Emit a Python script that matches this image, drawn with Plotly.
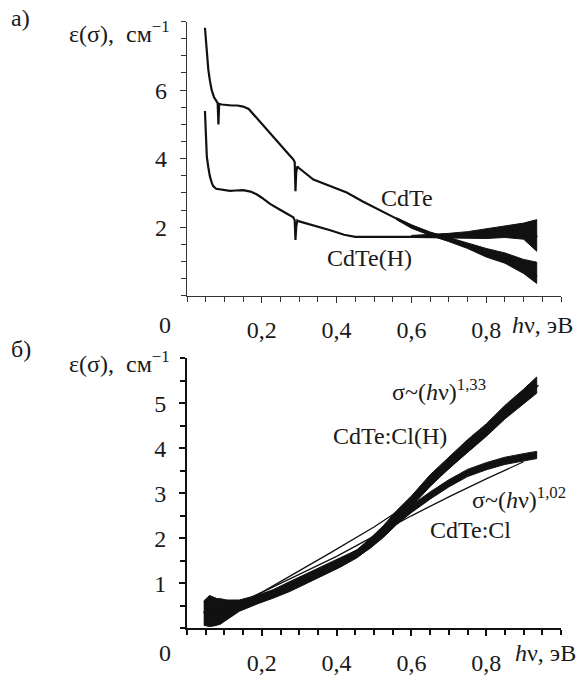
import numpy as np
import plotly.graph_objects as go

W, H = 582, 676

# ---------------- data: panel (a) ----------------
cdte_x = [0.048, 0.050, 0.053, 0.057, 0.061, 0.066, 0.072, 0.078, 0.082, 0.084, 0.086, 0.093,
          0.105, 0.12, 0.135, 0.15, 0.165, 0.18, 0.2, 0.225, 0.25, 0.27, 0.284, 0.288, 0.290,
          0.292, 0.295, 0.30, 0.338, 0.38, 0.427, 0.47, 0.516, 0.56, 0.605, 0.64, 0.676, 0.71,
          0.739, 0.77, 0.80, 0.84, 0.873, 0.90, 0.926, 0.935]
cdte_y = [7.82, 7.5, 6.96, 6.6, 6.29, 6.0, 5.8, 5.68, 5.62, 5.0, 5.6, 5.58,
          5.56, 5.55, 5.55, 5.52, 5.45, 5.26, 5.02, 4.71, 4.40, 4.15, 3.98, 3.9, 3.05,
          3.6, 3.77, 3.72, 3.39, 3.2, 3.01, 2.75, 2.49, 2.25, 2.02, 1.86, 1.73, 1.63,
          1.52, 1.40, 1.26, 1.12, 1.0, 0.85, 0.7, 0.55]
cdte_env_x = [0.56, 0.6, 0.65, 0.7, 0.75, 0.8, 0.85, 0.9, 0.935]
cdte_env_lo = [2.22, 1.97, 1.76, 1.58, 1.38, 1.13, 0.95, 0.65, 0.36]
cdte_env_hi = [2.28, 2.07, 1.86, 1.70, 1.56, 1.38, 1.25, 1.06, 0.98]

cdteh_x = [0.048, 0.050, 0.053, 0.057, 0.061, 0.066, 0.07, 0.078, 0.088, 0.1, 0.115, 0.13,
           0.15, 0.17, 0.186, 0.2, 0.222, 0.25, 0.275, 0.284, 0.288, 0.290, 0.292, 0.295,
           0.30, 0.338, 0.383, 0.42, 0.45, 0.48, 0.516, 0.56, 0.605, 0.64, 0.676, 0.71,
           0.739, 0.77, 0.80, 0.84, 0.873, 0.90, 0.926, 0.935]
cdteh_y = [5.39, 4.8, 4.06, 3.75, 3.49, 3.3, 3.2, 3.12, 3.1, 3.08, 3.06, 3.07,
           3.08, 3.04, 2.96, 2.86, 2.68, 2.5, 2.34, 2.29, 2.2, 1.63, 2.0, 2.2,
           2.17, 2.06, 1.91, 1.78, 1.72, 1.72, 1.72, 1.73, 1.73, 1.72, 1.72, 1.75,
           1.77, 1.80, 1.82, 1.87, 1.91, 1.94, 1.96, 1.7]
cdteh_env_x = [0.6, 0.65, 0.7, 0.75, 0.8, 0.85, 0.9, 0.935]
cdteh_env_lo = [1.70, 1.68, 1.68, 1.68, 1.67, 1.70, 1.65, 1.30]
cdteh_env_hi = [1.76, 1.78, 1.82, 1.87, 1.95, 2.02, 2.12, 2.22]

# ---------------- data: panel (b) ----------------
b_x = [0.045, 0.06, 0.075, 0.09, 0.11, 0.14, 0.19, 0.23, 0.275, 0.32, 0.365, 0.41,
       0.455, 0.49, 0.525, 0.56, 0.6, 0.65, 0.7, 0.75, 0.8, 0.85, 0.9, 0.935]
clh_y = [0.33, 0.38, 0.36, 0.38, 0.42, 0.5, 0.64, 0.75, 0.9, 1.07, 1.26, 1.45,
         1.66, 1.9, 2.18, 2.5, 2.82, 3.28, 3.68, 4.05, 4.4, 4.8, 5.15, 5.4]
clh_noise = [0.26, 0.34, 0.3, 0.28, 0.2, 0.12, 0.09, 0.08, 0.08, 0.08, 0.08, 0.09,
             0.09, 0.1, 0.1, 0.11, 0.12, 0.13, 0.13, 0.14, 0.14, 0.15, 0.16, 0.18]
cl_y = [0.35, 0.4, 0.38, 0.36, 0.45, 0.53, 0.67, 0.79, 0.97, 1.15, 1.33, 1.5,
        1.66, 1.86, 2.1, 2.38, 2.65, 2.95, 3.22, 3.45, 3.6, 3.72, 3.8, 3.85]
cl_noise = [0.26, 0.33, 0.3, 0.26, 0.18, 0.1, 0.07, 0.07, 0.07, 0.07, 0.07, 0.07,
            0.08, 0.08, 0.08, 0.08, 0.08, 0.08, 0.08, 0.08, 0.08, 0.08, 0.08, 0.08]

fit133_x = [0.05, 0.1, 0.2, 0.3, 0.382, 0.5, 0.6, 0.7, 0.8, 0.9, 0.94]
fit133_y = [0.18, 0.38, 0.8, 1.27, 1.67, 2.25, 2.8, 3.55, 4.3, 5.05, 5.4]
fit102_x = [0.05, 0.1, 0.2, 0.3, 0.4, 0.5, 0.6, 0.7, 0.8, 0.9]
fit102_y = [0.22, 0.42, 0.8, 1.2, 1.6, 2.05, 2.5, 2.92, 3.32, 3.7]

x_tickvals = [0.2, 0.4, 0.6, 0.8]
x_ticktext = ["0,2", "0,4", "0,6", "0,8"]
ya_tickvals = [2, 4, 6]
yb_tickvals = [1, 2, 3, 4, 5]

FONT = "Liberation Serif"
FS = 24
TXT = "#1a1a1a"


def px_x(p):
    return p / W


def px_y(p):
    return 1 - p / H


fig = go.Figure()


def band(xs, lo, hi, xa, ya):
    fig.add_trace(go.Scatter(
        x=list(xs) + list(xs)[::-1], y=list(hi) + list(lo)[::-1],
        fill="toself", fillcolor="#111", mode="lines",
        line=dict(color="#111", width=1), xaxis=xa, yaxis=ya,
        hoverinfo="skip", showlegend=False))


def line(xs, ys, xa, ya, w):
    fig.add_trace(go.Scatter(x=xs, y=ys, mode="lines",
                             line=dict(color="#111", width=w),
                             xaxis=xa, yaxis=ya, showlegend=False))


# panel (a)
band(cdte_env_x, cdte_env_lo, cdte_env_hi, "x", "y")
band(cdteh_env_x, cdteh_env_lo, cdteh_env_hi, "x", "y")
line(cdte_x, cdte_y, "x", "y", 2.2)
line(cdteh_x, cdteh_y, "x", "y", 2.2)

# panel (b)
clh_lo = np.array(clh_y) - np.array(clh_noise)
clh_hi = np.array(clh_y) + np.array(clh_noise)
cl_lo = np.array(cl_y) - np.array(cl_noise)
cl_hi = np.array(cl_y) + np.array(cl_noise)
band(b_x, cl_lo, cl_hi, "x2", "y2")
band(b_x, clh_lo, clh_hi, "x2", "y2")
line(b_x, cl_y, "x2", "y2", 2.5)
line(b_x, clh_y, "x2", "y2", 2.5)
line(fit133_x, fit133_y, "x2", "y2", 1.3)
line(fit102_x, fit102_y, "x2", "y2", 1.3)

x_dom = [px_x(187), px_x(561)]
ya_dom = [px_y(302), px_y(22)]
yb_dom = [px_y(641.7), px_y(365.7)]


def xaxis(anchor, lw, col):
    return dict(domain=x_dom, anchor=anchor, range=[0, 1.0], showgrid=False, zeroline=False,
                showline=True, linecolor=col, linewidth=lw,
                tickmode="array", tickvals=x_tickvals, ticktext=x_ticktext,
                ticks="outside", ticklen=6, tickwidth=lw, tickcolor=col,
                ticklabelstandoff=6,
                minor=dict(tickmode="linear", tick0=0, dtick=0.05, ticks="outside",
                           ticklen=5, tickwidth=lw, tickcolor=col, showgrid=False),
                tickfont=dict(family=FONT, size=FS, color=TXT))


def yaxis(anchor, dom, rng, tv, lw, col):
    return dict(domain=dom, anchor=anchor, range=rng, showgrid=False, zeroline=False,
                showline=True, linecolor=col, linewidth=lw,
                tickmode="array", tickvals=tv, ticktext=[str(v) for v in tv],
                ticks="outside", ticklen=6, tickwidth=lw, tickcolor=col,
                ticklabelstandoff=8,
                minor=dict(tickmode="linear", tick0=0, dtick=0.5, ticks="outside",
                           ticklen=5, tickwidth=lw, tickcolor=col, showgrid=False),
                tickfont=dict(family=FONT, size=FS, color=TXT))


ann = []


def text(t, x, y, xanchor="center", yanchor="middle"):
    ann.append(dict(text=t, x=px_x(x), y=px_y(y), xref="paper", yref="paper",
                    xanchor=xanchor, yanchor=yanchor, showarrow=False,
                    font=dict(family=FONT, size=FS, color=TXT)))


text("а)", 21, 18)
text("ε(σ),  см<sup>−1</sup>", 172, 33, "right")
text("CdTe", 407, 202)
text("CdTe(H)", 369, 263)
text("0", 165, 332)
text("<i>h</i>ν, эВ", 542, 332)

text("б)", 21, 356)
text("ε(σ),  см<sup>−1</sup>", 172, 370, "right")
text("σ~(<i>h</i>ν)<sup>1,33</sup>", 439, 398)
text("CdTe:Cl(H)", 390, 445)
text("σ~(<i>h</i>ν)<sup>1,02</sup>", 519, 509)
text("CdTe:Cl", 470, 541)
text("0", 165, 667)
text("<i>h</i>ν, эВ", 545, 667)

fig.update_layout(
    width=W, height=H, autosize=False,
    margin=dict(l=0, r=0, t=0, b=0),
    paper_bgcolor="white", plot_bgcolor="white",
    showlegend=False,
    xaxis=xaxis("y", 1.2, "#333"),
    yaxis=yaxis("x", ya_dom, [0, 8], ya_tickvals, 1.2, "#333"),
    xaxis2=xaxis("y2", 2, "#111"),
    yaxis2=yaxis("x2", yb_dom, [0, 6], yb_tickvals, 2, "#111"),
    annotations=ann,
    font=dict(family=FONT, size=FS, color=TXT),
)

# remove the browser's default 8px body margin so the figure fills the window exactly
fig.write_html("out.html",
               config={"displayModeBar": False},
               post_script="document.body.style.margin='0';document.body.style.overflow='hidden';")
